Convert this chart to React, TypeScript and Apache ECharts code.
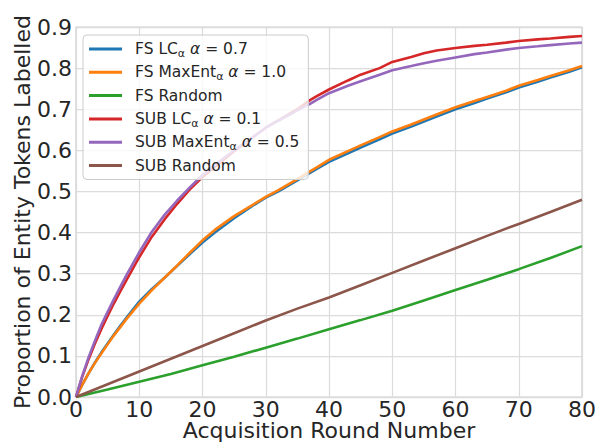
import React, { useEffect, useRef } from "react";
import * as echarts from "echarts";

const rounds = [0, 1, 2, 3, 4, 5, 6, 7, 8, 10, 12, 14, 16, 18, 20, 22, 25, 28, 30, 32, 35, 37, 38, 40, 43, 45, 48, 50, 53, 55, 57, 60, 63, 65, 68, 70, 73, 75, 78, 80];

const fsLc = [0, 0.03, 0.058, 0.084, 0.108, 0.13, 0.152, 0.173, 0.193, 0.232, 0.263, 0.29, 0.319, 0.348, 0.376, 0.401, 0.435, 0.466, 0.485, 0.5, 0.527, 0.545, 0.554, 0.572, 0.593, 0.607, 0.627, 0.641, 0.658, 0.67, 0.682, 0.7, 0.715, 0.726, 0.741, 0.753, 0.767, 0.777, 0.791, 0.802];
const fsMaxEnt = [0, 0.03, 0.058, 0.083, 0.106, 0.128, 0.15, 0.17, 0.19, 0.227, 0.26, 0.29, 0.32, 0.351, 0.381, 0.407, 0.44, 0.468, 0.487, 0.503, 0.53, 0.549, 0.558, 0.577, 0.598, 0.612, 0.632, 0.646, 0.663, 0.675, 0.687, 0.705, 0.72, 0.73, 0.745, 0.757, 0.771, 0.781, 0.795, 0.805];
const subLc = [0, 0.05, 0.092, 0.13, 0.165, 0.197, 0.228, 0.257, 0.285, 0.34, 0.39, 0.432, 0.47, 0.505, 0.535, 0.56, 0.598, 0.632, 0.655, 0.673, 0.7, 0.722, 0.731, 0.748, 0.77, 0.784, 0.8, 0.815, 0.827, 0.836, 0.843, 0.849, 0.854, 0.857, 0.862, 0.866, 0.87, 0.872, 0.876, 0.878];
const subMaxEnt = [0, 0.052, 0.097, 0.137, 0.175, 0.207, 0.238, 0.268, 0.297, 0.352, 0.402, 0.443, 0.478, 0.51, 0.54, 0.565, 0.6, 0.633, 0.655, 0.672, 0.697, 0.713, 0.722, 0.739, 0.757, 0.768, 0.784, 0.795, 0.805, 0.812, 0.818, 0.826, 0.834, 0.838, 0.845, 0.849, 0.853, 0.856, 0.86, 0.862];

const randomRounds = [0, 5, 10, 15, 20, 25, 30, 35, 40, 45, 50, 55, 60, 65, 70, 75, 80];
const fsRandom = [0, 0.018, 0.037, 0.056, 0.077, 0.098, 0.12, 0.142, 0.165, 0.187, 0.21, 0.235, 0.26, 0.285, 0.311, 0.338, 0.367];
const subRandom = [0, 0.031, 0.062, 0.093, 0.124, 0.155, 0.186, 0.215, 0.242, 0.272, 0.302, 0.332, 0.362, 0.392, 0.421, 0.45, 0.48];

const seriesNames = ["FS LC", "FS MaxEnt", "FS Random", "SUB LC", "SUB MaxEnt", "SUB Random"];
const legendLabels = [
  "FS LC{sub|α} {it|α} = 0.7",
  "FS MaxEnt{sub|α} {it|α} = 1.0",
  "FS Random",
  "SUB LC{sub|α} {it|α} = 0.1",
  "SUB MaxEnt{sub|α} {it|α} = 0.5",
  "SUB Random",
];
const colors = ["#1f77b4", "#ff7f0e", "#2ca02c", "#d62728", "#9467bd", "#8c564b"];

const FONT = "DejaVu Sans";
const TEXT = "#262626";

export default function App() {
  const ref = useRef<HTMLDivElement>(null);
  useEffect(() => {
    if (!ref.current) return;
    const chart = echarts.init(ref.current, null, { renderer: "svg" });
    const pair = (xs: number[], ys: number[]) => xs.map((x, i) => [x, ys[i]]);
    const dataSets = [
      pair(rounds, fsLc),
      pair(rounds, fsMaxEnt),
      pair(randomRounds, fsRandom),
      pair(rounds, subLc),
      pair(rounds, subMaxEnt),
      pair(randomRounds, subRandom),
    ];
    chart.setOption({
      animation: false,
      backgroundColor: "#ffffff",
      color: colors,
      grid: {
        left: 76,
        right: 16,
        top: 27,
        bottom: 48,
        show: true,
        borderColor: "#cccccc",
        borderWidth: 1.25,
        backgroundColor: "transparent",
        containLabel: false,
        outerBoundsMode: "none",
      },
      legend: {
        orient: "vertical",
        left: 83,
        top: 35,
        padding: [4, 9, 4, 6],
        itemGap: 3.3,
        itemWidth: 33,
        itemHeight: 3,
        icon: "rect",
        backgroundColor: "rgba(255,255,255,0.8)",
        borderColor: "#cccccc",
        borderWidth: 1,
        borderRadius: 4,
        data: seriesNames,
        formatter: (name: string) => legendLabels[seriesNames.indexOf(name)],
        textStyle: {
          fontFamily: FONT,
          fontSize: 15.5,
          color: TEXT,
          lineHeight: 20,
          padding: [0, 0, 0, 8],
          rich: {
            sub: { fontFamily: FONT, fontSize: 11, color: TEXT, verticalAlign: "bottom", lineHeight: 13 },
            it: { fontFamily: FONT, fontSize: 15.5, color: TEXT, fontStyle: "italic", lineHeight: 20 },
          },
        },
      },
      xAxis: {
        type: "value",
        min: 0,
        max: 80,
        interval: 10,
        name: "Acquisition Round Number",
        nameLocation: "middle",
        nameGap: 24,
        nameMoveOverlap: false,
        nameTextStyle: { fontFamily: FONT, fontSize: 22, lineHeight: 18, color: TEXT, verticalAlign: "top" },
        axisLine: { show: false },
        axisTick: { show: false },
        axisLabel: { fontFamily: FONT, fontSize: 22, lineHeight: 18, color: TEXT, margin: 3 },
        splitLine: { show: true, lineStyle: { color: "#dcdcdc", width: 1.25 } },
      },
      yAxis: {
        type: "value",
        min: 0,
        max: 0.9,
        interval: 0.1,
        name: "Proportion of Entity Tokens Labelled",
        nameLocation: "middle",
        nameGap: 43,
        nameMoveOverlap: false,
        nameTextStyle: { fontFamily: FONT, fontSize: 22, color: TEXT },
        axisLine: { show: false },
        axisTick: { show: false },
        axisLabel: {
          fontFamily: FONT,
          fontSize: 22,
          color: TEXT,
          margin: 4,
          formatter: (v: number) => v.toFixed(1),
        },
        splitLine: { show: true, lineStyle: { color: "#dcdcdc", width: 1.25 } },
      },
      series: seriesNames.map((name, i) => ({
        name,
        type: "line",
        data: dataSets[i],
        showSymbol: false,
        smooth: false,
        lineStyle: { width: 2.6, color: colors[i] },
        itemStyle: { color: colors[i] },
        z: 2,
      })),
    });
    return () => chart.dispose();
  }, []);
  return (
    <div
      ref={ref}
      style={{ position: "absolute", left: 0, top: 0, width: 598, height: 445 }}
    />
  );
}
